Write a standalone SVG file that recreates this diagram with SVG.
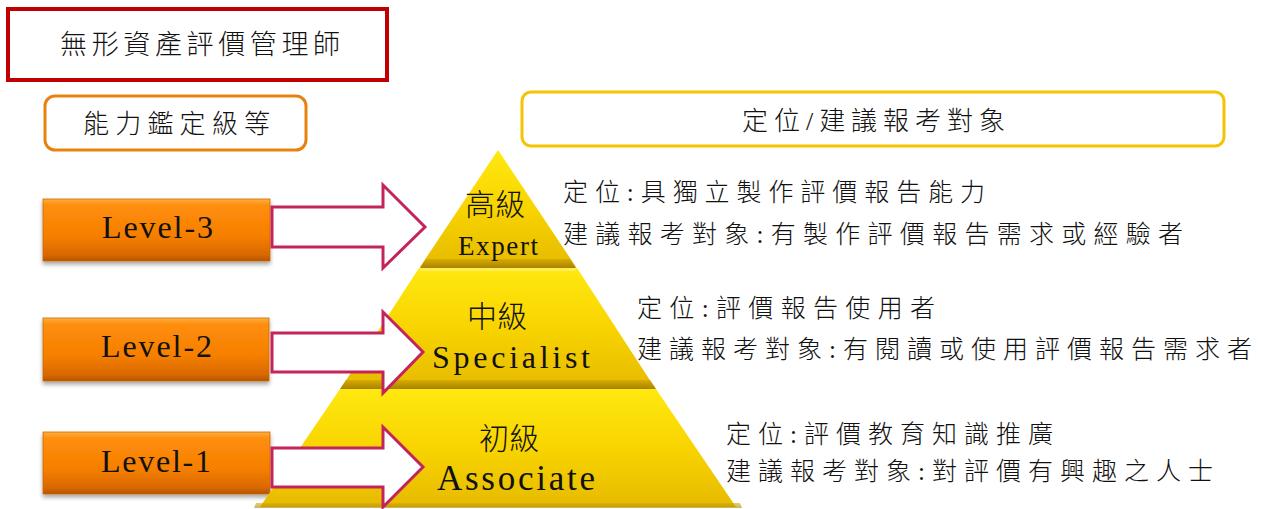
<svg xmlns="http://www.w3.org/2000/svg" width="1267" height="509" viewBox="0 0 1267 509">
  <style>
    .cjk { font-family: "Liberation Serif", "Noto Sans CJK TC", serif; fill: #111; font-weight: 300; }
    .lat { font-family: "Liberation Serif", "Noto Sans CJK TC", serif; fill: #111; }
    .desc { font-family: "Liberation Serif", "Noto Sans CJK TC", serif; fill: #111; font-size: 25px; font-weight: 300; }
    .arrow { fill: #ffffff; stroke: #C4245C; stroke-width: 3; stroke-linejoin: miter; }
    .lvl { fill: url(#orangeGrad); stroke: #C86A10; stroke-width: 0.8; filter: url(#shadow); }
    .tier { fill: url(#goldGrad); }
    .band { fill: url(#bandGrad); }
  </style>
  <defs>
    <linearGradient id="orangeGrad" x1="0" y1="0" x2="0" y2="1">
      <stop offset="0" stop-color="#FFB040"/>
      <stop offset="0.1" stop-color="#FF8E0C"/>
      <stop offset="0.6" stop-color="#F67F00"/>
      <stop offset="0.9" stop-color="#D86800"/>
      <stop offset="1" stop-color="#B45400"/>
    </linearGradient>
    <linearGradient id="goldGrad" x1="0" y1="0" x2="0" y2="1">
      <stop offset="0" stop-color="#FFE810"/>
      <stop offset="0.5" stop-color="#F8D400"/>
      <stop offset="1" stop-color="#E6BA00"/>
    </linearGradient>
    <linearGradient id="bandGrad" x1="0" y1="0" x2="0" y2="1">
      <stop offset="0" stop-color="#D8AC00"/>
      <stop offset="1" stop-color="#A88200"/>
    </linearGradient>
    <filter id="shadow" x="-10%" y="-10%" width="120%" height="140%">
      <feDropShadow dx="0" dy="3" stdDeviation="2" flood-color="#000" flood-opacity="0.35"/>
    </filter>
  </defs>

  <!-- Title -->
  <g id="title">
    <rect x="8" y="9" width="379" height="71" fill="#fff" stroke="#C00000" stroke-width="4"/>
    <text class="cjk" x="60" y="45" font-size="27" dominant-baseline="central" textLength="280" lengthAdjust="spacing">無形資產評價管理師</text>
  </g>

  <!-- Column headers -->
  <g id="ability-header">
    <rect x="45" y="96" width="261" height="54" rx="10" fill="#fff" stroke="#E8820E" stroke-width="3"/>
    <text class="cjk" x="83" y="124" font-size="26" dominant-baseline="central" textLength="187" lengthAdjust="spacing">能力鑑定級等</text>
  </g>
  <g id="position-header">
    <rect x="522" y="92" width="702" height="54" rx="9" fill="#fff" stroke="#F5C400" stroke-width="3"/>
    <text class="cjk" x="742" y="121" font-size="26" dominant-baseline="central" textLength="263" lengthAdjust="spacing">定位/建議報考對象</text>
  </g>

  <!-- Level boxes -->
  <g id="level-3">
    <rect class="lvl" x="43" y="199" width="227" height="62"/>
    <text class="lat" x="102" y="238" font-size="32" textLength="111" lengthAdjust="spacing">Level-3</text>
  </g>
  <g id="level-2">
    <rect class="lvl" x="43" y="318" width="226" height="63"/>
    <text class="lat" x="101" y="357" font-size="32" textLength="111" lengthAdjust="spacing">Level-2</text>
  </g>
  <g id="level-1">
    <rect class="lvl" x="43" y="432" width="227" height="62"/>
    <text class="lat" x="101" y="472" font-size="32" textLength="110" lengthAdjust="spacing">Level-1</text>
  </g>

  <!-- Pyramid tiers -->
  <g id="tier-associate">
    <polygon class="tier" points="340,389 656,389 736,507 260,507"/>
    <polygon class="band" points="256,503 740,503 742,508 254,508" opacity="0.6"/>
    <text class="cjk" x="509" y="438" font-size="30" text-anchor="middle" dominant-baseline="central">初級</text>
    <text class="lat" x="437" y="490" font-size="35" textLength="158" lengthAdjust="spacing">Associate</text>
  </g>
  <g id="tier-specialist">
    <polygon class="tier" points="419,268 577,268 655,388 341,388"/>
    <polygon class="band" points="346,380 650,380 656,389 340,389"/>
    <polygon points="419,268 577,268 575,271 421,271" fill="#FFF070" opacity="0.7"/>
    <text class="cjk" x="497" y="316" font-size="30" text-anchor="middle" dominant-baseline="central">中級</text>
    <text class="lat" x="432" y="368" font-size="32" textLength="158" lengthAdjust="spacing">Specialist</text>
  </g>
  <g id="tier-expert">
    <polygon class="tier" points="498,150 576,267 420,267"/>
    <polygon class="band" points="426,259 570,259 576,268 420,268"/>
    <text class="cjk" x="495" y="204" font-size="30" text-anchor="middle" dominant-baseline="central">高級</text>
    <text class="lat" x="458" y="255" font-size="27" textLength="80" lengthAdjust="spacing">Expert</text>
  </g>

  <!-- Descriptions -->
  <g id="desc-expert">
    <text class="desc" x="563" y="192" dominant-baseline="central" textLength="422" lengthAdjust="spacing">定位:具獨立製作評價報告能力</text>
    <text class="desc" x="563" y="234" dominant-baseline="central" textLength="620" lengthAdjust="spacing">建議報考對象:有製作評價報告需求或經驗者</text>
  </g>
  <g id="desc-specialist">
    <text class="desc" x="637" y="308" dominant-baseline="central" textLength="298" lengthAdjust="spacing">定位:評價報告使用者</text>
    <text class="desc" x="637" y="349" dominant-baseline="central" textLength="615" lengthAdjust="spacing">建議報考對象:有閱讀或使用評價報告需求者</text>
  </g>
  <g id="desc-associate">
    <text class="desc" x="726" y="434" dominant-baseline="central" textLength="327" lengthAdjust="spacing">定位:評價教育知識推廣</text>
    <text class="desc" x="726" y="471" dominant-baseline="central" textLength="487" lengthAdjust="spacing">建議報考對象:對評價有興趣之人士</text>
  </g>

  <!-- Connectors -->
  <g id="connectors">
    <polygon class="arrow" points="272,207 383,207 383,185 425,227 383,268 383,247 272,247"/>
    <polygon class="arrow" points="272,333 383,333 383,312 423,352 383,393 383,372 272,372"/>
    <polygon class="arrow" points="272,448 383,448 383,427 423,467 383,507 383,487 272,487"/>
  </g>
</svg>
